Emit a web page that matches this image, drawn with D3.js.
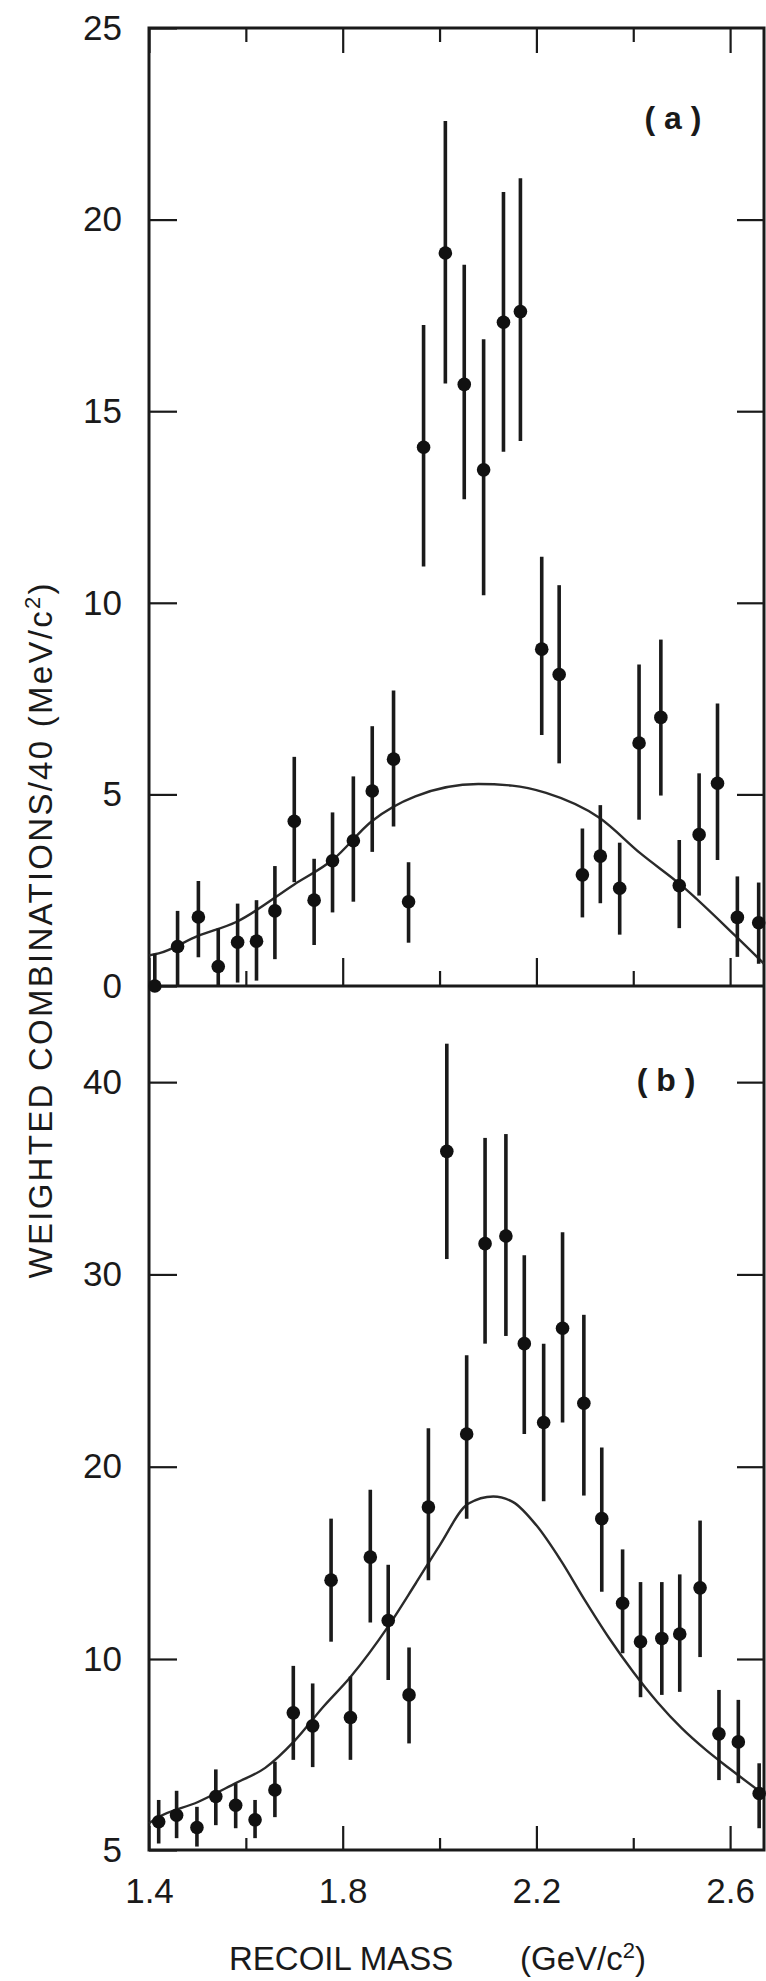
<!DOCTYPE html>
<html>
<head>
<meta charset="utf-8">
<script src="https://cdn.jsdelivr.net/npm/d3@7"></script>
<style>
  body { margin: 0; background: #fff; }
  svg { display: block; }
  text { font-family: "Liberation Sans", Arial, sans-serif; fill: #1a1a1a; }
</style>
</head>
<body>
<svg id="chart" width="766" height="1981"></svg>
<script>
// panel (a): recoil mass bins, weighted combinations and error bar ends
var massA = [1.412, 1.459, 1.502, 1.543, 1.583, 1.622, 1.660, 1.700, 1.741, 1.779, 1.822, 1.861, 1.905, 1.936, 1.967, 2.012,
             2.051, 2.091, 2.132, 2.167, 2.211, 2.247, 2.295, 2.332, 2.372, 2.412, 2.457, 2.495, 2.536, 2.574, 2.615, 2.659];
var valA = [0.0, 1.03, 1.80, 0.51, 1.14, 1.17, 1.96, 4.30, 2.24, 3.27, 3.79, 5.09, 5.92, 2.20, 14.06, 19.13,
            15.70, 13.47, 17.32, 17.60, 8.79, 8.13, 2.90, 3.39, 2.55, 6.34, 7.01, 2.62, 3.95, 5.29, 1.79, 1.65];
var loA = [0.0, 0.0, 0.75, 0.0, 0.09, 0.14, 0.70, 2.71, 1.07, 1.92, 2.20, 3.50, 4.16, 1.13, 10.95, 15.72,
           12.70, 10.20, 13.94, 14.22, 6.55, 5.81, 1.79, 2.16, 1.34, 4.34, 4.97, 1.51, 2.36, 3.29, 0.76, 0.58];
var hiA = [0.84, 1.96, 2.74, 1.50, 2.15, 2.24, 3.13, 5.98, 3.32, 4.53, 5.47, 6.78, 7.71, 3.23, 17.25, 22.57,
           18.82, 16.88, 20.72, 21.08, 11.20, 10.46, 4.11, 4.72, 3.74, 8.39, 9.04, 3.81, 5.55, 7.37, 2.86, 2.70];

// panel (a): background curve
var fitAx = [1.400, 1.420, 1.500, 1.580, 1.700, 1.780, 1.860, 1.950, 2.080, 2.150, 2.220, 2.330, 2.415, 2.500, 2.610, 2.670];
var fitAy = [0.80, 0.85, 1.30, 1.67, 2.65, 3.30, 4.30, 4.95, 5.27, 5.23, 5.04, 4.39, 3.46, 2.62, 1.32, 0.58];

// panel (b)
var massB = [1.420, 1.457, 1.499, 1.538, 1.579, 1.619, 1.660, 1.698, 1.738, 1.776, 1.816, 1.857, 1.894, 1.937, 1.977, 2.015,
             2.056, 2.094, 2.137, 2.175, 2.215, 2.254, 2.298, 2.335, 2.378, 2.415, 2.459, 2.496, 2.538, 2.577, 2.617, 2.660];
var valB = [5.74, 5.91, 5.59, 6.40, 6.17, 5.79, 6.57, 8.59, 8.25, 14.1, 8.47, 15.3, 12.0, 9.06, 17.9, 36.4,
            21.7, 31.6, 32.0, 26.4, 22.3, 27.2, 23.3, 17.3, 12.9, 10.9, 11.07, 11.3, 13.7, 8.04, 7.83, 6.48];
var loB = [5.17, 5.31, 5.09, 5.65, 5.57, 5.31, 5.86, 7.36, 7.17, 10.9, 7.36, 11.9, 9.45, 7.79, 14.1, 30.8,
           17.3, 26.4, 26.8, 21.7, 18.2, 22.3, 18.5, 13.5, 10.3, 9.0, 9.06, 9.14, 10.1, 6.83, 6.75, 5.57];
var hiB = [6.31, 6.55, 6.13, 7.11, 6.74, 6.31, 7.31, 9.82, 9.36, 17.3, 9.54, 18.8, 14.9, 10.6, 22.0, 42.0,
           25.8, 37.1, 37.3, 31.0, 26.4, 32.2, 27.9, 21.0, 15.7, 14.0, 14.0, 14.4, 17.2, 9.19, 8.93, 7.27];

var fitBx = [1.400, 1.420, 1.500, 1.579, 1.640, 1.700, 1.760, 1.816, 1.894, 1.950, 2.000, 2.059, 2.111, 2.152, 2.200,
             2.250, 2.300, 2.350, 2.400, 2.450, 2.500, 2.550, 2.600, 2.670];
var fitBy = [5.70, 5.86, 6.25, 6.75, 7.15, 7.85, 8.75, 9.53, 11.7, 13.9, 15.9, 18.07, 18.45, 18.16, 16.95,
             15.14, 13.06, 11.09, 9.66, 8.87, 8.19, 7.62, 7.12, 6.45];

// ticks
var yTicksA = [0, 5, 10, 15, 20, 25];
var yTicksB = [5, 10, 20, 30, 40];
var xMajor = [1.4, 1.8, 2.2, 2.6];
var xMinor = [1.6, 2.0, 2.4];

var svg = d3.select("#chart"),
    left = 149, right = 764,
    topA = 28, bottomA = 986,
    bottomB = 1850,
    ink = "#1a1a1a";

var x = d3.scaleLinear().domain([1.4, 2.67]).range([left, right]);
var yA = d3.scaleLinear().domain([0, 25]).range([bottomA, topA]);
// the lower panel has a stretched 5-10 step at the bottom, as printed
var yB = d3.scaleLinear().domain([5, 10, 45]).range([bottomB, 1659, bottomA]);

function styleAxis(g, size) {
    g.select(".domain").remove();
    g.selectAll(".tick line").attr("stroke", ink).attr("stroke-width", 2.2);
    g.selectAll(".tick text").attr("font-size", size).attr("fill", ink);
}

// left axes with labels, ticks pointing in
svg.append("g")
    .attr("transform", "translate(" + left + ",0)")
    .call(d3.axisLeft(yA).tickValues(yTicksA).tickSize(-28).tickPadding(27).tickFormat(d3.format("d")))
    .call(styleAxis, 35)
    .attr("font-family", null);

svg.append("g")
    .attr("transform", "translate(" + left + ",0)")
    .call(d3.axisLeft(yB).tickValues(yTicksB).tickSize(-28).tickPadding(27).tickFormat(d3.format("d")))
    .call(styleAxis, 35)
    .attr("font-family", null);

// right side ticks
svg.append("g")
    .attr("transform", "translate(" + right + ",0)")
    .call(d3.axisRight(yA).tickValues([5, 10, 15, 20]).tickSize(-27).tickFormat(""))
    .call(styleAxis, 0);

svg.append("g")
    .attr("transform", "translate(" + right + ",0)")
    .call(d3.axisRight(yB).tickValues([10, 20, 30, 40]).tickSize(-27).tickFormat(""))
    .call(styleAxis, 0);

// top axis ticks
svg.append("g")
    .attr("transform", "translate(0," + topA + ")")
    .call(d3.axisTop(x).tickValues(xMajor).tickSize(-25).tickFormat(""))
    .call(styleAxis, 0);
svg.append("g")
    .attr("transform", "translate(0," + topA + ")")
    .call(d3.axisTop(x).tickValues(xMinor).tickSize(-14).tickFormat(""))
    .call(styleAxis, 0);

// panel (a) bottom ticks
svg.append("g")
    .attr("transform", "translate(0," + bottomA + ")")
    .call(d3.axisBottom(x).tickValues(xMajor).tickSize(-28).tickFormat(""))
    .call(styleAxis, 0);
svg.append("g")
    .attr("transform", "translate(0," + bottomA + ")")
    .call(d3.axisBottom(x).tickValues(xMinor).tickSize(-15).tickFormat(""))
    .call(styleAxis, 0);

// panel (b) bottom axis with labels
svg.append("g")
    .attr("transform", "translate(0," + bottomB + ")")
    .call(d3.axisBottom(x).tickValues(xMajor).tickSize(-24).tickPadding(28).tickFormat(d3.format(".1f")))
    .call(styleAxis, 35)
    .attr("font-family", null);
svg.append("g")
    .attr("transform", "translate(0," + bottomB + ")")
    .call(d3.axisBottom(x).tickValues(xMinor).tickSize(-12).tickFormat(""))
    .call(styleAxis, 0);

// frames
svg.append("rect")
    .attr("x", left).attr("y", topA)
    .attr("width", right - left).attr("height", bottomB - topA)
    .attr("fill", "none").attr("stroke", ink).attr("stroke-width", 3);
svg.append("line")
    .attr("x1", left).attr("x2", right)
    .attr("y1", bottomA).attr("y2", bottomA)
    .attr("stroke", ink).attr("stroke-width", 3);

// curves
var lineA = d3.line()
    .x(function (d) { return x(d[0]); })
    .y(function (d) { return yA(d[1]); })
    .curve(d3.curveMonotoneX);
var lineB = d3.line()
    .x(function (d) { return x(d[0]); })
    .y(function (d) { return yB(d[1]); })
    .curve(d3.curveMonotoneX);

svg.append("path")
    .datum(d3.zip(fitAx, fitAy))
    .attr("d", lineA)
    .attr("fill", "none").attr("stroke", "#2a2a2a").attr("stroke-width", 2.4);
svg.append("path")
    .datum(d3.zip(fitBx, fitBy))
    .attr("d", lineB)
    .attr("fill", "none").attr("stroke", "#2a2a2a").attr("stroke-width", 2.4);

function drawPoints(mass, val, lo, hi, y) {
    var pts = mass.map(function (m, i) {
        return { m: m, v: val[i], lo: lo[i], hi: hi[i] };
    });
    var g = svg.append("g");
    g.selectAll("line")
        .data(pts)
        .enter().append("line")
        .attr("x1", function (d) { return x(d.m); })
        .attr("x2", function (d) { return x(d.m); })
        .attr("y1", function (d) { return y(d.lo); })
        .attr("y2", function (d) { return y(d.hi); })
        .attr("stroke", ink)
        .attr("stroke-width", 3.6);
    g.selectAll("circle")
        .data(pts)
        .enter().append("circle")
        .attr("cx", function (d) { return x(d.m); })
        .attr("cy", function (d) { return y(d.v); })
        .attr("r", 6.8)
        .attr("fill", "#111");
}

drawPoints(massA, valA, loA, hiA, yA);
drawPoints(massB, valB, loB, hiB, yB);

// panel tags
svg.append("text")
    .attr("x", 673).attr("y", 118).attr("dy", "0.35em")
    .attr("text-anchor", "middle")
    .attr("font-size", 32).attr("font-weight", "bold")
    .text("( a )");
svg.append("text")
    .attr("x", 666).attr("y", 1080).attr("dy", "0.35em")
    .attr("text-anchor", "middle")
    .attr("font-size", 32).attr("font-weight", "bold")
    .text("( b )");

// axis titles
var yTitle = svg.append("text")
    .attr("transform", "translate(52,931) rotate(-90)")
    .attr("text-anchor", "middle")
    .attr("font-size", 33)
    .attr("textLength", 695)
    .attr("lengthAdjust", "spacing");
yTitle.append("tspan").text("WEIGHTED COMBINATIONS/40 (MeV/c");
yTitle.append("tspan").attr("font-size", 22).attr("baseline-shift", "super").text("2");
yTitle.append("tspan").text(")");

svg.append("text")
    .attr("x", 229).attr("y", 1970)
    .attr("font-size", 33)
    .text("RECOIL MASS");
var xUnit = svg.append("text")
    .attr("x", 520).attr("y", 1970)
    .attr("font-size", 33);
xUnit.append("tspan").text("(GeV/c");
xUnit.append("tspan").attr("font-size", 22).attr("baseline-shift", "super").text("2");
xUnit.append("tspan").text(")");
</script>
</body>
</html>
